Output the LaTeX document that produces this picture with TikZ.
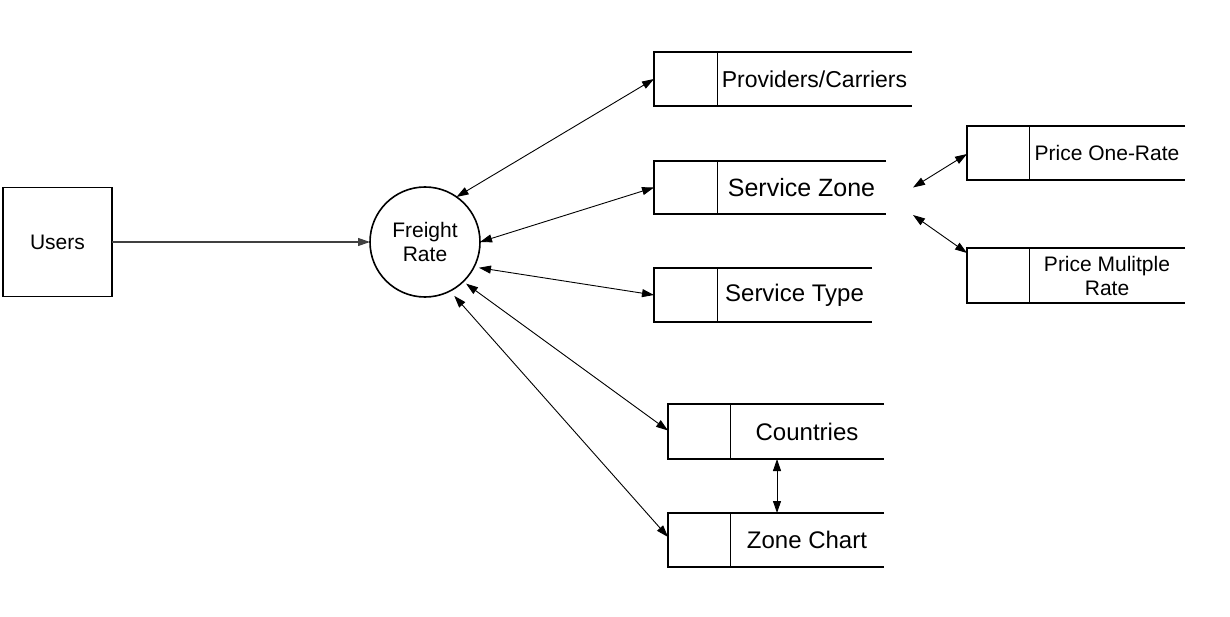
\documentclass[tikz,border=0pt]{standalone}
\usepackage{fontspec}
\setmainfont{Liberation Sans}
\usetikzlibrary{arrows.meta,calc}
\tikzset{
  storebox/.style={draw=none, rectangle, inner sep=0pt, outer sep=0pt},
  storeline/.style={line width=1.6pt},
  divline/.style={line width=0.9pt},
  flow/.style={line width=0.9pt, {Triangle[length=12pt,width=8pt]}-{Triangle[length=12pt,width=8pt]}},
  oneway/.style={line width=1.2pt, draw=black!75, -{Triangle[length=12pt,width=8pt]}},
  entity/.style={draw, line width=1.6pt, rectangle, minimum width=109pt, minimum height=109pt, inner sep=0pt, outer sep=0pt},
  process/.style={draw, line width=1.6pt, circle, minimum size=110pt, inner sep=0pt, outer sep=0pt, align=center},
  stext/.style={inner sep=0pt, align=center}
}
\newcommand\DStore[8]{%
  \node[storebox, minimum width={#4-#2}, minimum height={#5-#3}] (#1) at ({(#2+#4)/2},{(#3+#5)/2}) {};
  \draw[storeline] (#1.north east) -- (#1.north west) -- (#1.south west) -- (#1.south east);
  \draw[divline] ([xshift=#6pt]#1.north west) -- ([xshift=#6pt]#1.south west);
  \node[stext, font=\fontsize{#7}{24}\selectfont] (#1t) at ($([xshift=#6pt]#1.west)!0.5!(#1.east)$) {#8};
}
\begin{document}
\begin{tikzpicture}[x=1pt,y=-1pt]
\useasboundingbox (0,0) rectangle (1230,617);

\node[entity, font=\fontsize{21}{24}\selectfont] (us) at (57.5,242) {Users};
\node[process, font=\fontsize{21}{23.5}\selectfont] (fr) at (425,242) {Freight\\Rate};

\DStore{pc}{654}{52}{912}{106}{63}{23}{Providers/Carriers}
\DStore{sz}{654}{161}{886}{214}{63}{25}{Service Zone}
\DStore{stp}{654}{268}{872}{322}{63}{24}{Service Type}
\DStore{ct}{668}{404}{884}{459}{62}{24}{Countries}
\DStore{zc}{668}{513}{884}{567}{62}{24}{Zone Chart}
\DStore{por}{967}{126}{1185}{180}{62}{21}{Price One-Rate}
\DStore{pmr}{967}{248}{1185}{303}{62}{21}{Price Mulitple\\Rate}

\draw[oneway] (us.east) -- (fr.west);

\draw[flow] (fr.55) -- (pc.west);
\draw[flow] (fr.0) -- (sz.west);
\draw[flow, shorten <=5pt] (fr.-27) -- (stp.west);
\draw[flow, shorten <=3.5pt] (fr.-46) -- ([yshift=1pt]ct.west);
\draw[flow, shorten <=6.5pt] (fr.-63) -- ([yshift=3pt]zc.west);

\coordinate (szr1) at ([xshift=27pt]sz.east);
\coordinate (szr2) at ([xshift=27pt,yshift=-1pt]sz.south east);
\draw[flow] (szr1) -- ([yshift=-1pt]por.west);
\draw[flow] (szr2) -- ([yshift=-5pt]pmr.north west);

\draw[flow] ([xshift=109pt]ct.south west) -- ([xshift=109pt]zc.north west);
\end{tikzpicture}
\end{document}
